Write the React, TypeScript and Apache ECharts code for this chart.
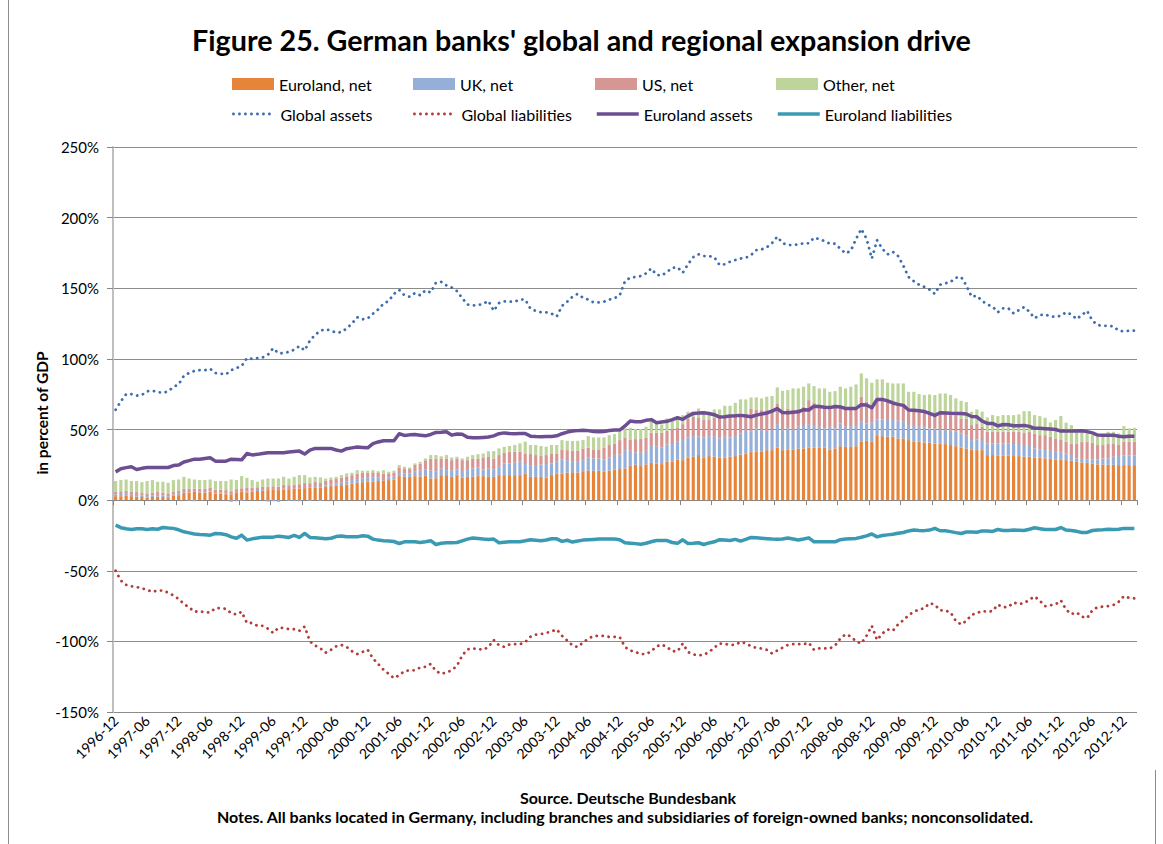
import React, { useEffect, useRef } from 'react';
import * as echarts from 'echarts';

// Monthly categories 1996-12 .. 2013-02 (195 months)
const categories: string[] = [];
for (let k = 0; k < 195; k++) {
  const m = 11 + k;
  const y = 1996 + Math.floor(m / 12);
  const mo = (m % 12) + 1;
  categories.push(`${y}-${mo < 10 ? '0' + mo : mo}`);
}

const yTicks = [-150, -100, -50, 0, 50, 100, 150, 200, 250];

const euroNet = [
  2.8, 2.8, 3.0, 2.8, 2.5, 2.2, 2.0, 2.2, 2.5, 2.2,
  2.0, 3.0, 3.5, 5.0, 5.5, 5.9, 5.5, 5.2, 5.9, 4.5,
  4.7, 4.2, 3.8, 5.5, 5.9, 5.5, 5.9, 6.4, 6.6, 7.1,
  7.3, 7.1, 7.5, 7.8, 8.0, 8.3, 8.5, 9.0, 8.7, 9.0,
  9.4, 9.9, 10.2, 10.6, 11.1, 11.8, 12.3, 12.7, 13.0, 13.2,
  13.5, 13.7, 14.2, 14.6, 17.0, 16.5, 16.5, 17.0, 16.8, 17.2,
  15.3, 15.5, 17.7, 17.7, 16.5, 17.7, 16.0, 16.5, 16.5, 17.0,
  17.0, 16.5, 16.5, 17.7, 17.7, 17.7, 17.7, 17.7, 18.9, 16.5,
  16.5, 16.5, 16.0, 17.7, 18.9, 18.9, 19.4, 19.8, 19.4, 20.5,
  20.8, 20.8, 20.8, 20.1, 20.8, 21.7, 22.0, 22.4, 24.6, 25.0,
  24.1, 25.3, 26.4, 26.0, 25.5, 27.1, 27.1, 28.8, 28.3, 30.0,
  30.7, 31.9, 30.2, 31.2, 30.7, 30.0, 30.2, 30.7, 31.2, 32.3,
  33.0, 34.0, 34.2, 34.2, 35.4, 35.4, 37.3, 35.4, 35.9, 35.9,
  36.6, 36.6, 37.3, 37.3, 37.3, 37.3, 35.9, 36.6, 38.2, 37.8,
  37.8, 38.2, 41.3, 42.0, 41.3, 46.0, 45.3, 44.9, 44.9, 43.7,
  43.7, 42.5, 41.3, 41.3, 40.8, 40.8, 40.1, 40.1, 39.7, 39.0,
  38.2, 37.3, 36.6, 35.9, 35.4, 35.4, 31.9, 31.9, 31.6, 31.4,
  31.4, 31.2, 31.2, 30.7, 30.7, 30.2, 30.2, 29.5, 29.5, 28.8,
  28.8, 28.3, 27.9, 27.1, 26.7, 26.4, 26.0, 25.3, 25.3, 25.0,
  25.0, 24.8, 24.8, 24.8, 24.8,
];

const ukNet = [
  1.2, 1.5, 1.4, 1.0, 1.2, 1.0, 0.8, 1.0, 1.2, 1.0,
  0.8, 0.9, 1.0, 0.6, -0.5, -0.8, 0.4, 0.5, 0.4, 0.5,
  0.5, 0.6, -1.2, -0.8, -0.6, 0.6, 0.6, 0.8, 0.6, -1.0,
  -0.8, -1.2, 0.5, -0.6, -0.5, -0.8, 0.8, -0.6, 1.3, -0.5,
  1.0, 1.2, 1.5, 2.0, 2.2, 2.4, 2.6, 2.8, 2.8, 3.0,
  2.5, -0.7, 1.8, 2.0, 2.2, 2.5, 2.5, 3.5, 4.0, 4.5,
  5.5, 5.0, 4.7, 3.5, 4.7, 4.0, 4.7, 4.7, 5.9, 6.1,
  4.7, 5.9, 5.2, 5.9, 8.3, 8.3, 8.8, 9.5, 6.6, 8.3,
  8.3, 8.8, 9.5, 8.3, 8.3, 9.9, 8.9, 7.8, 8.2, 7.8,
  9.4, 8.7, 8.7, 8.7, 9.4, 10.2, 10.3, 13.0, 10.3, 8.8,
  9.4, 9.6, 12.6, 11.8, 11.8, 12.3, 12.6, 12.5, 14.2, 14.4,
  14.6, 13.0, 14.2, 14.1, 14.6, 13.7, 14.7, 13.7, 14.1, 14.9,
  16.6, 14.4, 16.6, 15.4, 13.7, 14.6, 16.5, 14.2, 14.9, 13.7,
  15.3, 15.8, 16.5, 15.1, 14.6, 13.5, 16.0, 14.2, 16.1, 14.1,
  14.6, 14.2, 14.2, 12.3, 13.5, 11.1, 11.8, 11.8, 11.8, 12.5,
  11.8, 10.6, 11.1, 10.6, 10.7, 10.0, 10.7, 10.2, 9.9, 10.1,
  10.2, 9.9, 9.4, 6.6, 7.6, 7.1, 8.2, 8.2, 8.5, 8.7,
  8.7, 8.5, 8.5, 8.3, 8.3, 6.4, 5.7, 5.9, 5.4, 5.4,
  4.7, 4.7, 4.0, 2.5, 2.5, 2.5, 2.8, 3.5, 4.2, 4.5,
  5.7, 6.4, 6.8, 6.8, 6.8,
];

const usNet = [
  2.0, 2.0, 2.2, 2.0, 2.0, 1.8, 2.0, 2.0, 2.0, 2.2,
  2.0, 2.2, 2.2, 2.5, 2.5, 2.2, 2.3, 2.5, 2.3, 2.3,
  2.3, 2.3, 2.5, 2.3, 2.5, 2.5, 2.3, 2.0, 2.3, 2.5,
  2.5, 2.5, 2.8, 2.8, 3.0, 3.0, 3.0, 3.0, 3.0, 3.2,
  3.2, 3.2, 3.3, 3.3, 3.5, 3.5, 3.8, 3.8, 3.5, 3.5,
  3.2, 5.0, 3.0, 3.0, 4.0, 3.5, 3.0, 4.5, 5.0, 6.5,
  8.5, 9.0, 7.1, 8.3, 7.1, 7.8, 7.6, 7.1, 7.1, 6.4,
  8.5, 8.6, 7.8, 8.3, 7.5, 8.3, 7.8, 7.1, 7.6, 7.8,
  7.1, 5.9, 6.4, 7.1, 5.9, 7.1, 7.1, 7.3, 7.3, 8.3,
  6.9, 6.4, 6.4, 8.5, 8.8, 8.2, 10.2, 9.0, 8.1, 9.4,
  9.9, 9.5, 8.7, 9.9, 10.4, 9.7, 10.6, 10.2, 11.3, 13.2,
  13.7, 13.4, 12.7, 11.4, 13.0, 14.6, 14.6, 15.8, 14.9, 14.2,
  11.8, 16.5, 13.4, 14.1, 14.6, 14.9, 14.7, 14.1, 14.1, 14.6,
  13.0, 13.7, 17.0, 16.5, 15.4, 15.3, 14.2, 15.8, 13.0, 14.2,
  13.7, 13.7, 17.7, 15.3, 12.5, 13.7, 13.2, 12.9, 11.8, 11.8,
  11.8, 11.8, 11.3, 11.8, 11.5, 11.8, 10.6, 12.3, 12.3, 11.1,
  11.1, 10.6, 11.6, 10.6, 11.3, 9.4, 8.3, 8.3, 8.3, 8.3,
  8.3, 8.7, 8.7, 8.7, 9.4, 10.6, 10.1, 10.6, 10.0, 9.5,
  9.5, 8.3, 8.2, 10.5, 11.9, 12.5, 11.8, 10.2, 9.5, 10.6,
  9.0, 7.8, 9.7, 9.7, 9.7,
];

const otherNet = [
  7.5, 7.9, 8.0, 7.7, 7.8, 7.7, 8.7, 9.0, 7.3, 7.6,
  7.5, 8.1, 7.9, 8.4, 7.3, 6.5, 6.0, 6.0, 6.0, 6.2,
  6.0, 6.4, 8.3, 6.4, 8.6, 7.2, 5.4, 3.8, 5.1, 5.7,
  5.5, 5.7, 5.7, 4.7, 5.5, 6.4, 5.4, 4.1, 3.5, 3.9,
  1.7, 1.7, 1.5, 1.8, 2.1, 1.7, 2.5, 1.5, 1.5, 1.5,
  1.3, 2.5, 1.1, 1.2, 1.6, 1.1, 1.1, 1.0, 1.3, 1.3,
  2.6, 2.4, 1.5, 2.4, 1.9, 1.2, 1.2, 2.4, 2.4, 3.0,
  2.8, 3.6, 5.2, 4.7, 4.2, 4.0, 4.7, 5.9, 8.3, 6.4,
  7.1, 7.1, 5.9, 5.9, 5.9, 6.6, 6.6, 6.9, 7.1, 5.9,
  8.2, 8.5, 8.5, 7.1, 7.0, 6.6, 5.9, 6.4, 8.2, 7.1,
  6.9, 7.5, 9.0, 6.6, 5.9, 8.7, 5.9, 7.5, 6.4, 5.0,
  3.6, 6.6, 5.5, 4.7, 5.9, 5.9, 7.3, 6.6, 8.7, 9.9,
  9.9, 7.8, 8.5, 8.3, 9.5, 8.8, 11.3, 13.7, 13.0, 14.9,
  14.2, 14.2, 11.8, 11.8, 11.8, 13.0, 10.6, 10.6, 13.0, 13.0,
  14.2, 15.8, 16.5, 16.6, 15.8, 14.7, 15.2, 13.5, 14.1, 14.6,
  15.3, 11.8, 13.0, 11.4, 11.4, 12.2, 13.0, 12.9, 13.6, 14.2,
  12.5, 12.5, 11.8, 9.5, 9.9, 10.7, 10.1, 11.8, 11.1, 11.8,
  11.8, 11.8, 12.3, 15.3, 14.6, 13.0, 13.5, 12.3, 10.1, 13.0,
  16.5, 13.5, 13.0, 9.5, 7.8, 6.8, 5.4, 5.9, 5.9, 8.3,
  8.7, 8.2, 11.1, 9.5, 9.9,
];

const globalAssets = [
  64, 70, 75, 75, 74, 74.5, 77, 77.5, 76.5, 76,
  77, 80, 82, 88, 90, 91.5, 92, 92, 93, 90,
  89.5, 89, 92, 93.5, 95, 100.5, 100, 100.5, 101, 103,
  107.5, 104, 104, 105, 106.5, 109, 106, 113, 117, 120,
  121, 120, 118.5, 119, 121.5, 125, 129.5, 128, 128.6, 132,
  135, 139, 141, 146, 148.8, 145, 144, 146.6, 145, 148.5,
  147, 154, 154.5, 152, 150.5, 148, 143, 138.5, 137.8, 138,
  139, 141, 134, 139.5, 140.7, 140.5, 140.5, 142, 142, 135.5,
  134, 133, 133, 132, 130, 137.5, 140.5, 144, 146, 143.3,
  142, 140, 140, 140.5, 142, 143, 145, 155, 157.5, 158,
  158.6, 160.5, 164, 159.5, 159, 161.5, 164.5, 164.8, 161, 167,
  172, 174, 172.8, 172.8, 172, 166.5, 167, 168.8, 170, 171,
  171.6, 173.5, 177, 177.5, 179, 182, 186.5, 182, 180.6, 180.6,
  181, 181.8, 181.8, 185.8, 184.8, 183.4, 181.5, 181.5, 178, 174.7,
  176.5, 185, 192, 185, 171, 184, 178, 174, 175.8, 172.8,
  166, 158, 155, 152.5, 151, 149, 146, 152.5, 153.5, 154.5,
  157.5, 158, 152, 144, 144.7, 141, 138.5, 137, 133, 135.8,
  135.8, 132.2, 134.5, 136.7, 133.4, 128.8, 131, 131.5, 130, 129.8,
  130.5, 133, 131.5, 128.2, 131, 134, 127, 124, 123.4, 123.4,
  123, 120, 119.5, 120, 120,
];

const globalLiabilities = [
  -50, -57, -60, -61, -61.5, -62.5, -63.5, -65, -64, -64,
  -65.5, -67.5, -70, -73.5, -76, -79, -78.6, -79.5, -79.5, -76.5,
  -76.5, -77, -80, -81, -79, -87, -87, -89, -89, -91,
  -94, -90.4, -90.5, -91.4, -91.4, -92.5, -89.5, -100, -103, -105,
  -108, -106, -103.5, -102.5, -104, -107, -109, -107.5, -106, -112,
  -116, -120, -123, -126, -124, -121, -120.5, -120.5, -118.5, -118,
  -116, -121, -123, -122, -120.4, -117.3, -110, -105.7, -105, -105.3,
  -106, -104, -99, -102.7, -103.9, -102.2, -102, -102, -100.5, -96.7,
  -95.2, -94.8, -94, -93, -91.5, -96, -99.4, -102.9, -104, -100.8,
  -98.2, -96.2, -96.1, -96.2, -96.8, -96.8, -97, -104, -106.5, -107.5,
  -109, -109, -107, -103.5, -102.3, -104, -107, -107, -101.5, -107.5,
  -109.3, -109.8, -109.5, -107.5, -104.5, -101.5, -101.8, -102.5, -102.5, -100.5,
  -101.3, -103.5, -104.6, -105, -106, -108.6, -106.5, -104.5, -102.5, -102,
  -102, -102, -101, -106, -105, -105, -105, -103, -98, -95,
  -96.5, -100, -101.5, -96, -89, -99, -94.5, -91.5, -92.5, -88,
  -85, -81.5, -79, -77.5, -76.5, -73, -74, -78, -78.1, -79.5,
  -85.5, -88, -85.5, -81.2, -80, -78.5, -79, -78.5, -74, -75.8,
  -75.6, -72.5, -73.6, -73, -70.5, -68.2, -71.3, -75.1, -74.4, -73.8,
  -71, -77.5, -80.7, -79.5, -82.5, -83.5, -78, -75.8, -75.4, -75,
  -74.3, -72, -68, -69.2, -69.5,
];

const euroAssets = [
  20, 22.2, 23, 23.6, 21.7, 22.5, 23.1, 23.1, 23.1, 23.1,
  23.1, 24.5, 24.8, 27, 28, 29, 29, 29.5, 30, 27.6,
  27.6, 27.6, 29, 28.8, 28.5, 33, 32, 32.4, 33, 33.5,
  33.5, 33.5, 33.5, 34, 34.4, 34.7, 32.6, 35.4, 36.6, 36.6,
  36.6, 36.6, 35.5, 34.7, 36.4, 37, 37.6, 37.3, 37, 40,
  41.2, 42, 42, 42, 47, 45.8, 46.2, 46.5, 46, 45.5,
  46.5, 47.9, 48, 48.4, 46, 46.8, 46.6, 44.5, 44.2, 44.1,
  44.4, 44.7, 45.5, 47, 47.6, 47.2, 47, 47.1, 47.2, 45.3,
  45, 44.8, 45, 45.1, 45.5, 47, 48.2, 48.9, 49.2, 49.5,
  49.2, 48.5, 48.4, 48.5, 49.3, 49.6, 49.6, 52.5, 56, 55.5,
  55.5, 56.5, 57, 54.8, 55.3, 55.8, 57, 58.3, 57.2, 59.5,
  61.4, 61.6, 61.9, 61.3, 60.5, 58.8, 59, 59.5, 59.7, 60,
  59.5, 59, 60.2, 61, 61.7, 63, 64.8, 62, 61.9, 62.2,
  62.5, 64, 63.8, 66.5, 66.3, 65.8, 65.5, 66.3, 66, 64.9,
  64.9, 64.9, 67.6, 67.3, 65.4, 71.3, 71.3, 70.3, 68.8, 67.8,
  67.1, 63.8, 63.7, 63.3, 62.7, 61.5, 60, 61.9, 61.7, 61.5,
  61.4, 61.4, 61, 59.2, 59, 56, 54.3, 54.3, 52.6, 53.5,
  53.4, 52.7, 52.7, 52.9, 52.2, 50.8, 50.8, 50.6, 50.3, 50,
  48.9, 48.9, 48.9, 49, 49.1, 48.5, 47.6, 46.1, 46, 46,
  46, 45.2, 44.9, 45.3, 45.3,
];

const euroLiabilities = [
  -17.7, -19.5, -20.3, -20.8, -20.3, -20.2, -20.8, -20.3, -20.6, -19.4,
  -19.8, -20, -21, -22.4, -23.2, -24, -24.3, -24.5, -24.8, -23.6,
  -23.8, -24.5, -26, -27, -24.8, -28.3, -27.4, -26.8, -26.2, -26.2,
  -26.2, -25.5, -26, -26.4, -25, -26.4, -23.6, -26.4, -26.7, -27,
  -27.4, -27, -25.8, -25.4, -26, -26, -26, -25.2, -25.5, -27.6,
  -28.3, -28.8, -29, -29.3, -30.7, -29.5, -29.5, -29.5, -30, -29.5,
  -28.8, -31.4, -30.5, -30.2, -30.2, -30, -28.8, -27.6, -26.8, -27.2,
  -27.6, -27.8, -27.6, -30.2, -29.8, -29.5, -29.5, -29.5, -28.8, -28,
  -28.4, -28.8, -28.2, -27.4, -27.4, -29.2, -28.4, -29.7, -29, -28.3,
  -28, -27.8, -27.6, -27.6, -27.6, -27.6, -28, -30.2, -30.5, -30.8,
  -31.2, -30.5, -29.5, -28.6, -28.6, -28.6, -30, -30.6, -28.1, -30.7,
  -30.5, -30.2, -31.4, -30.3, -29.5, -28, -28.2, -28.6, -27.8, -29,
  -27.8, -26.4, -26.7, -27, -27.3, -27.6, -27.7, -27.5, -26.8, -27.5,
  -28.2, -27.5, -26.7, -29.5, -29.5, -29.5, -29.5, -29.5, -28, -27.5,
  -27.3, -27.1, -26.3, -25.3, -24, -26, -25, -24.6, -24.2, -23.5,
  -22.9, -21.8, -21.2, -21.5, -21.6, -21.2, -20, -21.7, -21.7, -22.3,
  -23, -23.6, -22.6, -22.5, -22.7, -21.8, -21.8, -22.2, -20.8, -21.5,
  -21.5, -21.2, -21.3, -21.5, -20.6, -19.6, -20.2, -20.8, -20.8, -20.8,
  -19.4, -21.2, -21.5, -22.1, -22.9, -22.9, -21.5, -21.2, -21, -20.6,
  -20.8, -20.6, -20, -20, -20,
];

const FONT = 'Lato';

export default function App() {
  const ref = useRef<HTMLDivElement>(null);

  useEffect(() => {
    const chart = echarts.init(ref.current as HTMLDivElement, null, { renderer: 'svg' });

    const barDefs = [
      { name: 'Euroland, net', data: euroNet, color: '#E6853A' },
      { name: 'UK, net', data: ukNet, color: '#95AFD8' },
      { name: 'US, net', data: usNet, color: '#D69694' },
      { name: 'Other, net', data: otherNet, color: '#BDD49B' },
    ];
    const dotted = [0.1, 5.9];
    const lineDefs = [
      { name: 'Global assets', data: globalAssets, color: '#3D6DAE', width: 2.8, type: dotted as any, cap: 'round' },
      { name: 'Global liabilities', data: globalLiabilities, color: '#B23C3A', width: 2.8, type: dotted as any, cap: 'round' },
      { name: 'Euroland assets', data: euroAssets, color: '#6D4E93', width: 3.5, type: 'solid', cap: 'butt' },
      { name: 'Euroland liabilities', data: euroLiabilities, color: '#3A9AB4', width: 3.5, type: 'solid', cap: 'butt' },
    ];

    const colX = [227, 408, 590, 771];
    const legendText = { fontFamily: FONT, fontSize: 16, color: '#000' };
    const legends: any[] = [];
    barDefs.forEach((b, k) => {
      legends.push({
        data: [{ name: b.name, icon: 'rect' }],
        left: colX[k], top: 71, itemWidth: 42, itemHeight: 12, itemGap: 4,
        selectedMode: false,
        textStyle: legendText,
      });
    });
    lineDefs.forEach((l, k) => {
      legends.push({
        data: [{ name: l.name, itemStyle: { opacity: 0, color: 'rgba(0,0,0,0)', borderWidth: 0 } }],
        left: colX[k], top: 101, itemWidth: 42, itemHeight: 12, itemGap: 4,
        selectedMode: false,
        lineStyle: { width: l.width, color: l.color, type: l.type, cap: l.cap },
        textStyle: legendText,
      });
    });

    const option: any = {
      animation: false,
      backgroundColor: '#ffffff',
      textStyle: { fontFamily: FONT },
      title: {
        text: "Figure 25. German banks' global and regional expansion drive",
        left: 'center',
        top: 20,
        textStyle: { fontFamily: FONT, fontWeight: 'bold', fontSize: 28.7, color: '#000' },
      },
      legend: legends,
      grid: { left: 113, top: 147, width: 1024, height: 565, containLabel: false },
      xAxis: [
        {
          type: 'category',
          data: categories,
          position: 'bottom',
          boundaryGap: true,
          axisLine: { show: false, onZero: false },
          axisTick: { show: false },
          axisLabel: {
            interval: 5,
            rotate: 45,
            margin: 6,
            fontFamily: FONT,
            fontSize: 14,
            color: '#000',
          },
          splitLine: { show: false },
        },
        {
          type: 'category',
          data: categories,
          position: 'top',
          boundaryGap: true,
          axisLine: { show: true, onZero: true, lineStyle: { color: '#868686', width: 1 } },
          axisTick: { show: true, inside: true, interval: 5, length: 5, lineStyle: { color: '#868686' } },
          axisLabel: { show: false },
          splitLine: { show: false },
        },
      ],
      yAxis: {
        type: 'value',
        min: -150,
        max: 250,
        interval: 50,
        axisLine: { show: true, onZero: false, lineStyle: { color: '#BFBFBF', width: 2 } },
        axisTick: { show: true, length: 6, lineStyle: { color: '#868686' } },
        axisLabel: {
          margin: 14,
          fontFamily: FONT,
          fontSize: 15,
          color: '#000',
          formatter: (v: number) => (yTicks.indexOf(v) >= 0 ? v + '%' : ''),
        },
        splitLine: { show: true, lineStyle: { color: '#8C8C8C', width: 1 } },
      },
      series: [
        ...barDefs.map((b) => ({
          name: b.name,
          type: 'bar',
          stack: 'net',
          data: b.data,
          barWidth: '60%',
          xAxisIndex: 0,
          yAxisIndex: 0,
          itemStyle: { color: b.color },
          emphasis: { disabled: true },
          z: 2,
        })),
        ...lineDefs.map((l) => ({
          name: l.name,
          type: 'line',
          data: l.data,
          xAxisIndex: 0,
          yAxisIndex: 0,
          symbol: 'none',
          showSymbol: false,
          lineStyle: { color: l.color, width: l.width, type: l.type, cap: l.cap, join: 'round' },
          itemStyle: { color: l.color },
          emphasis: { disabled: true },
          z: 3,
        })),
      ],
      graphic: [
        {
          type: 'text',
          x: 42,
          y: 413,
          rotation: Math.PI / 2,
          style: {
            text: 'in percent of GDP',
            font: `bold 15.5px ${FONT}`,
            fill: '#000',
            textAlign: 'center',
            textVerticalAlign: 'middle',
            align: 'center',
            verticalAlign: 'middle',
          },
        },
        {
          type: 'text',
          x: 628,
          y: 797,
          style: {
            text: 'Source. Deutsche Bundesbank',
            font: `bold 16px ${FONT}`,
            fill: '#000',
            textAlign: 'center',
            textVerticalAlign: 'middle',
            align: 'center',
            verticalAlign: 'middle',
          },
        },
        {
          type: 'text',
          x: 625,
          y: 816,
          style: {
            text: 'Notes. All banks located in Germany, including branches and subsidiaries of foreign-owned banks; nonconsolidated.',
            font: `bold 16px ${FONT}`,
            fill: '#000',
            textAlign: 'center',
            textVerticalAlign: 'middle',
            align: 'center',
            verticalAlign: 'middle',
          },
        },
        {
          type: 'rect',
          shape: { x: 8, y: 0, width: 1, height: 844 },
          style: { fill: '#8C8C8C' },
        },
        {
          type: 'rect',
          shape: { x: 1155, y: 770, width: 1, height: 74 },
          style: { fill: '#8C8C8C' },
        },
      ],
    };

    chart.setOption(option);
    return () => chart.dispose();
  }, []);

  return (
    <div
      ref={ref}
      style={{ position: 'fixed', left: 0, top: 0, width: 1163, height: 844, background: '#fff' }}
    />
  );
}
